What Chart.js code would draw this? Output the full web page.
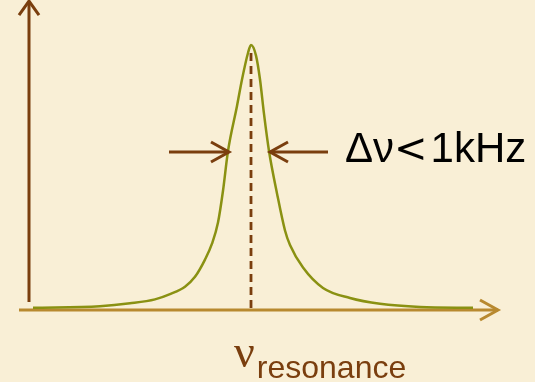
<!DOCTYPE html>
<html>
<head>
<meta charset="utf-8">
<script src="https://cdn.jsdelivr.net/npm/chart.js@4"></script>
<style>
  html, body { margin: 0; padding: 0; background: #F9EFD6; }
  #wrap { width: 535px; height: 382px; }
</style>
</head>
<body>
<div id="wrap"><canvas id="lineChart" width="535" height="382"></canvas></div>
<script>
// detuning from resonance (kHz) and normalised response
const detuning = [-4.36, -3.02, -2.42, -1.92, -1.62, -1.32, -1.12, -0.92, -0.78, -0.66, -0.56, -0.46, -0.28, -0.18, -0.06, 0,
  0.10, 0.18, 0.26, 0.36, 0.52, 0.68, 0.78, 1.04, 1.44, 1.98, 2.58, 3.38, 4.44];
const response = [0.008, 0.014, 0.025, 0.040, 0.060, 0.088, 0.125, 0.19, 0.25, 0.33, 0.45, 0.60, 0.77, 0.87, 0.97, 1.0,
  0.96, 0.87, 0.74, 0.60, 0.44, 0.30, 0.245, 0.16, 0.083, 0.045, 0.023, 0.011, 0.008];

const peakLabel = "ν";
const peakSub = "resonance";
const widthSymbols = "Δν";
const widthLess = "<";
const widthValue = "1kHz";

const brown = "#7A3E0E";
const tan = "#B8892F";
const olive = "#8A9112";

let points = detuning.map((d, i) => ({ x: d, y: response[i] }));

function arrowHead(ctx, x1, y1, x2, y2, len, half) {
  let ang = Math.atan2(y2 - y1, x2 - x1);
  ctx.beginPath();
  ctx.moveTo(x2 - len * Math.cos(ang) + half * Math.sin(ang), y2 - len * Math.sin(ang) - half * Math.cos(ang));
  ctx.lineTo(x2, y2);
  ctx.lineTo(x2 - len * Math.cos(ang) - half * Math.sin(ang), y2 - len * Math.sin(ang) + half * Math.cos(ang));
  ctx.stroke();
}

function arrow(ctx, x1, y1, x2, y2, color, len, half) {
  ctx.strokeStyle = color;
  ctx.beginPath();
  ctx.moveTo(x1, y1);
  ctx.lineTo(x2, y2);
  ctx.stroke();
  arrowHead(ctx, x1, y1, x2, y2, len, half);
}

const decorations = {
  id: "decorations",
  beforeDraw(chart) {
    let ctx = chart.ctx;
    ctx.save();
    ctx.fillStyle = "#F9EFD6";
    ctx.fillRect(0, 0, chart.width, chart.height);
    ctx.restore();
  },
  beforeDatasetsDraw(chart) {
    let ctx = chart.ctx;
    let sx = chart.scales.x, sy = chart.scales.y;
    ctx.save();
    ctx.lineWidth = 3;
    ctx.lineCap = "butt";
    ctx.lineJoin = "miter";
    // frequency axis
    arrow(ctx, sx.getPixelForValue(-4.64), sy.getPixelForValue(0), sx.getPixelForValue(4.94), sy.getPixelForValue(0), tan, 18, 10);
    // amplitude axis
    arrow(ctx, sx.getPixelForValue(-4.44), sy.getPixelForValue(0.03), sx.getPixelForValue(-4.44), sy.getPixelForValue(1.166), brown, 14, 10);
    // dashed line under the peak
    ctx.strokeStyle = brown;
    ctx.lineWidth = 2.8;
    ctx.setLineDash([8, 5]);
    ctx.beginPath();
    ctx.moveTo(sx.getPixelForValue(0), sy.getPixelForValue(0.97));
    ctx.lineTo(sx.getPixelForValue(0), sy.getPixelForValue(0));
    ctx.stroke();
    ctx.restore();
  },
  afterDatasetsDraw(chart) {
    let ctx = chart.ctx;
    let sx = chart.scales.x, sy = chart.scales.y;
    ctx.save();
    ctx.lineWidth = 3;
    let ay = sy.getPixelForValue(0.596);
    arrow(ctx, sx.getPixelForValue(-1.64), ay, sx.getPixelForValue(-0.44), ay, brown, 18, 10);
    arrow(ctx, sx.getPixelForValue(1.54), ay, sx.getPixelForValue(0.38), ay, brown, 18, 10);

    // linewidth label, drawn in pieces so the "<" gets a wide glyph
    ctx.fillStyle = "#000000";
    ctx.textBaseline = "alphabetic";
    let tx = sx.getPixelForValue(1.88), ty = sy.getPixelForValue(0.558);
    ctx.font = "42px 'Liberation Sans', Arial, sans-serif";
    ctx.fillText(widthSymbols, tx, ty);
    tx += ctx.measureText(widthSymbols).width;
    ctx.font = "40px 'DejaVu Sans', sans-serif";
    ctx.fillText(widthLess, tx, ty);
    tx += ctx.measureText(widthLess).width + 3;
    ctx.font = "42px 'Liberation Sans', Arial, sans-serif";
    ctx.fillText(widthValue, tx, ty);

    // resonance label
    ctx.fillStyle = brown;
    let nx = sx.getPixelForValue(-0.34), ny = sy.getPixelForValue(-0.215);
    ctx.font = "46px 'Liberation Serif', 'Times New Roman', serif";
    ctx.fillText(peakLabel, nx, ny);
    let w = ctx.measureText(peakLabel).width;
    ctx.font = "32px 'Liberation Sans', Arial, sans-serif";
    ctx.fillText(peakSub, nx + w + 2, ny + 11);
    ctx.restore();
  }
};

new Chart("lineChart", {
  type: "scatter",
  data: {
    datasets: [
      {
        data: points,
        showLine: true,
        borderColor: olive,
        borderWidth: 2.5,
        pointRadius: 0,
        cubicInterpolationMode: "monotone",
        fill: false
      }
    ]
  },
  options: {
    responsive: false,
    animation: false,
    layout: { padding: 0 },
    plugins: {
      legend: { display: false },
      tooltip: { enabled: false }
    },
    scales: {
      x: { type: "linear", min: -5.02, max: 5.68, display: false },
      y: { type: "linear", min: -0.272, max: 1.170, display: false }
    }
  },
  plugins: [decorations]
});
</script>
</body>
</html>
